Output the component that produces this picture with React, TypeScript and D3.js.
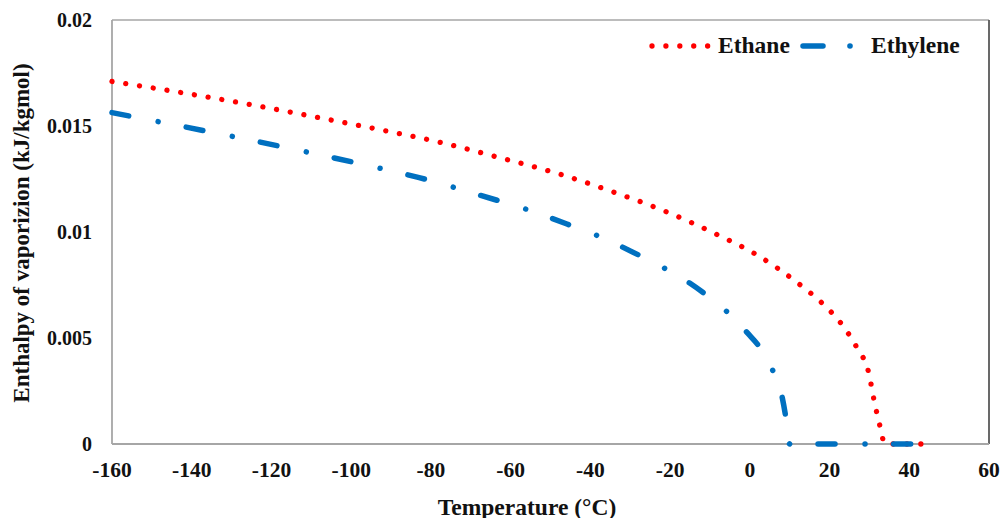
import React from "react";
import * as d3 from "d3";

const ethaneT = [-160, -145, -125, -105, -91, -77, -64, -47, -34, -21, -8, 1.5, 13, 18.4, 23.2, 26.9, 29.9, 31.2, 32.7, 33.6, 34, 44];
const ethaneH = [0.0171, 0.01665, 0.016, 0.01528, 0.01476, 0.0142, 0.01357, 0.01269, 0.01187, 0.01096, 0.00986, 0.00895, 0.00745, 0.0066, 0.00561, 0.00453, 0.0033, 0.00203, 0.0008, 0.0001, 0, 0];

const ethyleneT = [-160, -148, -129, -111, -92, -80, -68, -56, -44.5, -38, -27, -21, -15, -10.7, -5.4, -0.6, 2.6, 5.9, 8.1, 9.1, 10, 41];
const ethyleneH = [0.01563, 0.01519, 0.01448, 0.01377, 0.01297, 0.01242, 0.01175, 0.01107, 0.01028, 0.00981, 0.00883, 0.00825, 0.00758, 0.007, 0.00618, 0.00524, 0.00453, 0.0034, 0.00222, 0.00118, 0, 0];

const xTicks = [-160, -140, -120, -100, -80, -60, -40, -20, 0, 20, 40, 60];
const yTicks = [0, 0.005, 0.01, 0.015, 0.02];
const yTickLabels = ["0", "0.005", "0.01", "0.015", "0.02"];

const seriesNames = ["Ethane", "Ethylene"];

const W = 1004;
const H = 518;
const M = { left: 112, right: 989, top: 20, bottom: 444 };
const FONT = "'Liberation Serif', 'Times New Roman', serif";

export default function App() {
  const x = d3.scaleLinear().domain([-160, 60]).range([M.left, M.right]);
  const y = d3.scaleLinear().domain([0, 0.02]).range([M.bottom, M.top]);

  const line = d3
    .line<[number, number]>()
    .x((d) => x(d[0]))
    .y((d) => y(d[1]))
    .curve(d3.curveMonotoneX);

  const ethane = ethaneT.map((t, i) => [t, ethaneH[i]] as [number, number]);
  const ethylene = ethyleneT.map((t, i) => [t, ethyleneH[i]] as [number, number]);

  const red = "#FF0000";
  const blue = "#0070C0";

  return (
    <svg
      width={W}
      height={H}
      style={{ position: "absolute", left: 0, top: 0, background: "#fff" }}
      fontFamily={FONT}
      fontWeight="bold"
    >
      <rect x={0} y={0} width={W} height={H} fill="#fff" />
      {/* frame */}
      <line x1={M.left} x2={M.right} y1={M.top} y2={M.top} stroke="#A6A6A6" strokeWidth={1.5} />
      <line x1={M.right} x2={M.right} y1={M.top} y2={M.bottom} stroke="#595959" strokeWidth={1.8} />
      <line x1={M.left} x2={M.left} y1={M.top} y2={M.bottom} stroke="#A6A6A6" strokeWidth={1.8} />
      <line x1={M.left} x2={M.right} y1={M.bottom} y2={M.bottom} stroke="#A6A6A6" strokeWidth={1.8} />

      {/* y ticks */}
      {yTicks.map((v, i) => (
        <text key={"y" + i} x={92} y={y(v)} dy="0.35em" textAnchor="end" fontSize={20} fill="#111">
          {yTickLabels[i]}
        </text>
      ))}
      {/* x ticks */}
      {xTicks.map((v) => (
        <text key={"x" + v} x={x(v)} y={477} textAnchor="middle" fontSize={21.5} fill="#111">
          {v}
        </text>
      ))}

      {/* series */}
      <path
        d={line(ethane) || ""}
        fill="none"
        stroke={red}
        strokeWidth={5.3}
        strokeLinecap="round"
        strokeDasharray="0.01 13.9"
      />
      <path
        d={line(ethylene) || ""}
        fill="none"
        stroke={blue}
        strokeWidth={5.5}
        strokeLinecap="round"
        strokeDasharray="17 30 0.01 28.6"
      />

      {/* axis titles */}
      <text
        transform={`translate(29, 233) rotate(-90)`}
        textAnchor="middle"
        fontSize={23}
        fill="#111"
      >
        Enthalpy of vaporizion (kJ/kgmol)
      </text>
      <text x={527} y={515} textAnchor="middle" fontSize={23.5} fill="#111">
        Temperature (°C)
      </text>

      {/* legend */}
      <line x1={652} x2={708} y1={46} y2={46} stroke={red} strokeWidth={5.3} strokeLinecap="round" strokeDasharray="0.01 13.9" />
      <text x={718} y={53} fontSize={23.5} fill="#111">
        {seriesNames[0]}
      </text>
      <line x1={803} x2={823} y1={46} y2={46} stroke={blue} strokeWidth={5.5} strokeLinecap="round" />
      <circle cx={850} cy={46} r={2.8} fill={blue} />
      <text x={871} y={53} fontSize={23.5} fill="#111">
        {seriesNames[1]}
      </text>
    </svg>
  );
}
